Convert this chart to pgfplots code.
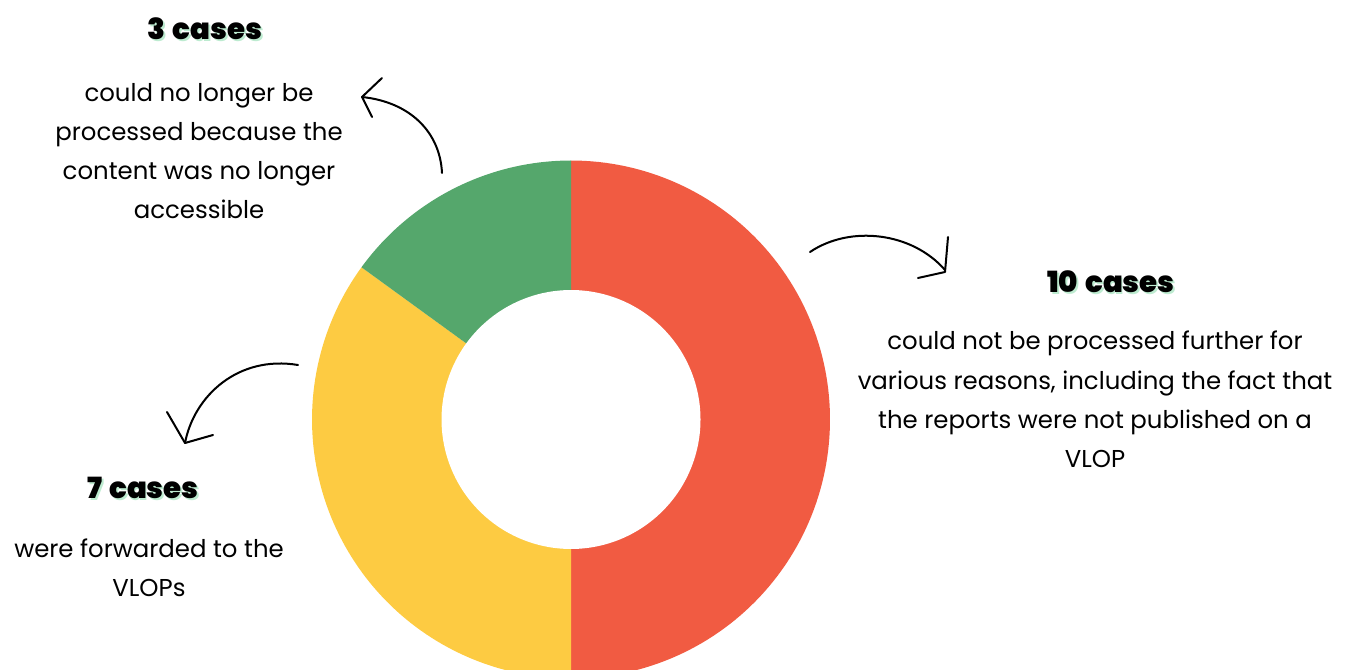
\documentclass[border=0pt]{standalone}
\usepackage{pgfplots}
\usepackage{pgfplotstable}
\usepackage{fontspec}
\pgfplotsset{compat=1.18}
\setmainfont{Poppins}
\newfontfamily\headfont{Poppins Black}[WordSpace=1.4]

\definecolor{cred}{HTML}{F15B42}
\definecolor{cyellow}{HTML}{FDCB42}
\definecolor{cgreen}{HTML}{55A76C}
\definecolor{cshadow}{HTML}{BDEBD0}

% cases per outcome, clockwise from the top
\pgfplotstableread{
outcome value
notprocessed 10
forwarded 7
inaccessible 3
}\cases

\pgfplotstablegetelem{0}{value}\of\cases \let\va\pgfplotsretval
\pgfplotstablegetelem{1}{value}\of\cases \let\vb\pgfplotsretval
\pgfplotstablegetelem{2}{value}\of\cases \let\vc\pgfplotsretval
\pgfmathsetmacro\total{\va+\vb+\vc}
\pgfmathsetmacro\aA{90}
\pgfmathsetmacro\aB{\aA-360*\va/\total}
\pgfmathsetmacro\aC{\aB-360*\vb/\total}
\pgfmathsetmacro\aD{\aC-360*\vc/\total}

\def\cx{571}
\def\cy{249.5}
\def\rout{259}
\def\rin{129.5}

\newcommand\head[3]{%
  \node[anchor=base, text=cshadow] at (#1+1.8,#2+1.8) {\headfont\fontsize{14.6}{17}\selectfont #3};
  \node[anchor=base] at (#1,#2) {\headfont\fontsize{14.6}{17}\selectfont #3};}
\newcommand\body[3]{%
  \node[anchor=base] at (#1,#2) {\fontsize{12.2}{16}\selectfont #3};}

\begin{document}
\begin{tikzpicture}
\begin{axis}[
  at={(0,0)}, anchor=south west,
  width=676pt, height=334.5pt, scale only axis,
  xmin=0, xmax=1352, ymin=0, ymax=669,
  hide axis]
\addplot[fill=cred, draw=none, domain=\aB:\aA, samples=120, variable=\t]
  ({\cx+\rout*cos(\t)},{\cy+\rout*sin(\t)}) -- (\cx,\cy) -- cycle;
\addplot[fill=cyellow, draw=none, domain=\aC:\aB, samples=90, variable=\t]
  ({\cx+\rout*cos(\t)},{\cy+\rout*sin(\t)}) -- (\cx,\cy) -- cycle;
\addplot[fill=cgreen, draw=none, domain=\aD:\aC, samples=40, variable=\t]
  ({\cx+\rout*cos(\t)},{\cy+\rout*sin(\t)}) -- (\cx,\cy) -- cycle;
\addplot[fill=white, draw=none, domain=0:360, samples=180, variable=\t]
  ({\cx+\rin*cos(\t)},{\cy+\rin*sin(\t)}) -- cycle;
\end{axis}

\begin{scope}[x=0.5pt, y=-0.5pt, shift={(0,334.5pt)}, inner sep=0pt]
  % labels
  \head{205}{40}{3 cases}
  \body{199}{101.5}{could no longer be}
  \body{199}{140.5}{processed because the}
  \body{199}{180}{content was no longer}
  \body{199}{219}{accessible}

  \head{1111}{293}{10 cases}
  \body{1095}{350}{could not be processed further for}
  \body{1095}{389.5}{various reasons, including the fact that}
  \body{1095}{428.5}{the reports were not published on a}
  \body{1095}{468}{VLOP}

  \head{143}{499}{7 cases}
  \body{149}{557}{were forwarded to the}
  \body{149}{596}{VLOPs}

  % hand drawn arrows
  \begin{scope}[line width=1pt, line cap=round, line join=round]
    \draw (442,173) .. controls (440,132) and (410,102) .. (362,97);
    \draw (382,78) -- (362,97) -- (372,117);
    \draw (810,252) .. controls (850,225) and (912,232) .. (945,270);
    \draw (948,237) -- (945,272) -- (918,278);
    \draw (298,365) .. controls (238,355) and (194,396) .. (185,443);
    \draw (167,412) -- (185,443) -- (213,435);
  \end{scope}
\end{scope}
\pgfresetboundingbox
\path[use as bounding box] (0,0) rectangle (676pt,334.5pt);
\end{tikzpicture}
\end{document}
